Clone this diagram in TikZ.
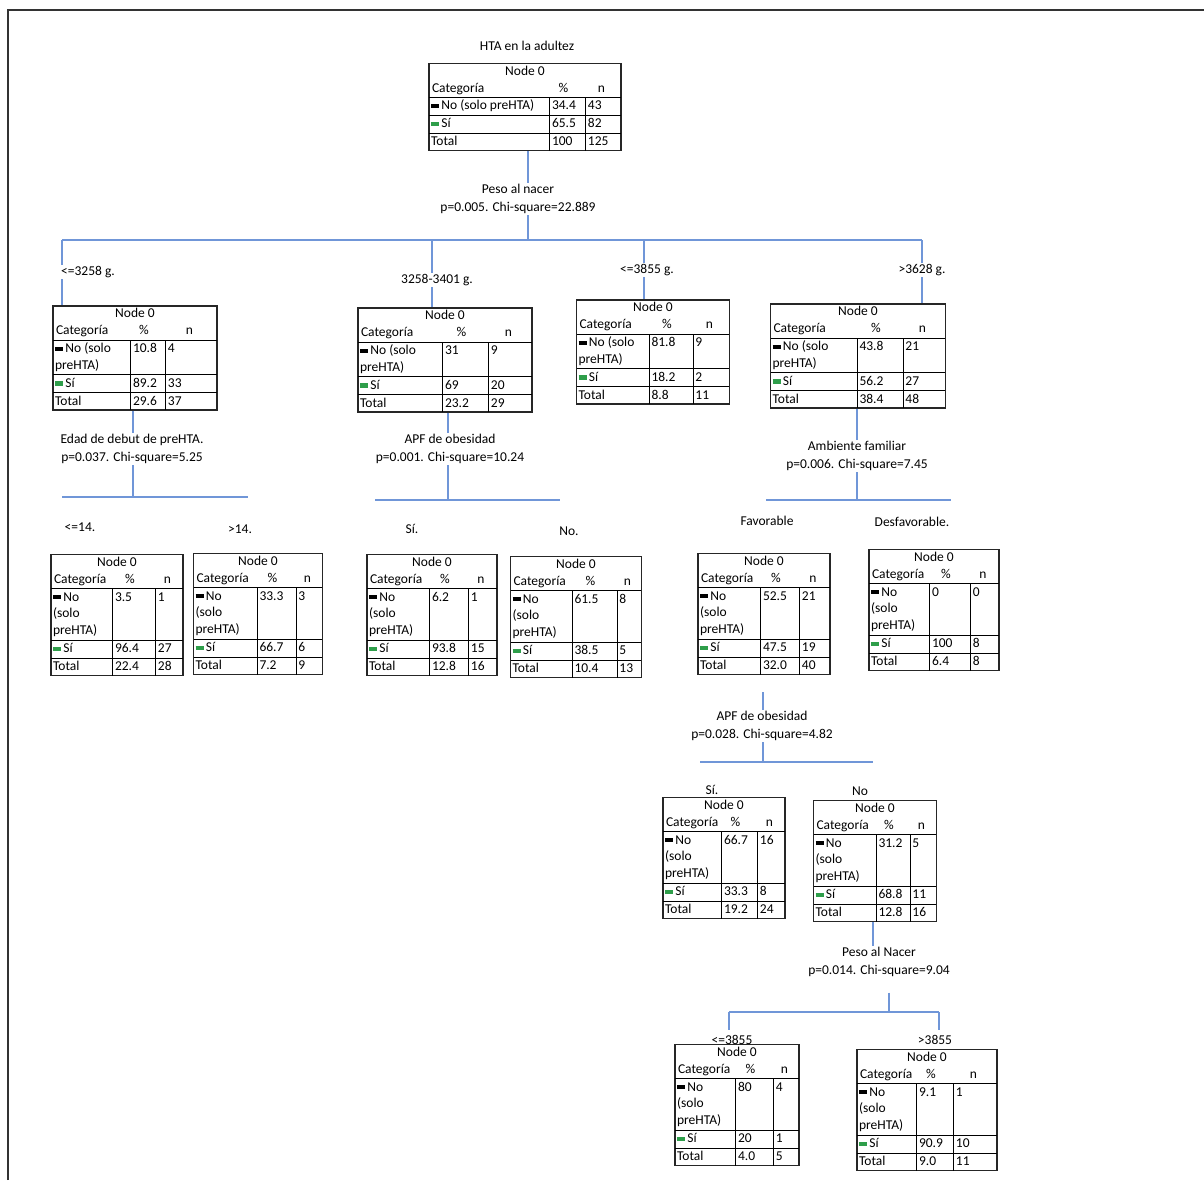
\documentclass[tikz,border=0pt]{standalone}
\usepackage{fontspec}
\setmainfont{Carlito}
\usepackage{array}
\usepackage{tikz}
\definecolor{treeblue}{HTML}{7096D8}
\definecolor{sigreen}{HTML}{2E9E4A}
\definecolor{framegray}{HTML}{333333}
\setlength\arrayrulewidth{0.7pt}
\newlength\pxu \setlength\pxu{0.025cm}
\newlength\cwA \newlength\cwB \newlength\cwC
\newcommand\setcols[3]{\setlength\cwA{#1\pxu}\setlength\cwB{#2\pxu}\setlength\cwC{#3\pxu}}
\newcommand\nomark{\textcolor{black}{\rule[0.12em]{0.6em}{0.32em}}\,}
\newcommand\simark{\textcolor{sigreen}{\rule[0.12em]{0.6em}{0.32em}}\,}
% one SPSS-like cell table: No-label, %, n, %, n, total %, total n
\newcommand\ctab[7]{%
  \setlength\tabcolsep{2\pxu}%
  \begin{tabular}{>{\raggedright\arraybackslash}p{\dimexpr\cwA-2\tabcolsep\relax}|%
      >{\raggedright\arraybackslash}p{\dimexpr\cwB-2\tabcolsep\relax}|%
      >{\raggedright\arraybackslash}p{\dimexpr\cwC-2\tabcolsep\relax}}
    \multicolumn{3}{c}{Node 0}\\
    \multicolumn{3}{@{}l@{}}{\makebox[\cwA][l]{\hspace{3\pxu}Categoría}\makebox[\cwB][c]{\%\hspace{6\pxu}}\makebox[\cwC][c]{n}}\\ \hline
    \nomark #1 & #2 & #3\\ \hline
    \simark Sí & #4 & #5\\ \hline
    Total & #6 & #7
  \end{tabular}}

\begin{document}
\begin{tikzpicture}[x=0.025cm, y=-0.025cm,
    font=\fontsize{9.6}{12}\selectfont,
    tabnode/.style={draw=black!85, line width=0.9pt, inner sep=0pt, fill=white},
    splitlbl/.style={align=center, font=\fontsize{9.6}{12.8}\selectfont, inner sep=1pt},
    branchlbl/.style={fill=white, inner sep=1pt},
    conn/.style={treeblue, line width=1pt}]
  \useasboundingbox (0,0) rectangle (1204,1180);
  \draw[framegray, line width=1pt] (8,1180) -- (8,10) -- (1204,10);

  % Root
  \node (TITLE) at (527,46) {HTA en la adultez};
  \node[tabnode] (ROOT) at (525,107)
    {\setcols{120}{35}{35}\ctab{No (solo preHTA)}{34.4}{43}{65.5}{82}{100}{125}};
  \node[splitlbl] (SPESO) at (518,199) {Peso al nacer\\p=0.005. Chi-square=22.889};

  % Peso al nacer
  \node[tabnode] (PESO1) at (135,358)
    {\setcols{77}{34}{51}\ctab{No (solo\newline preHTA)}{10.8}{4}{89.2}{33}{29.6}{37}};
  \node[tabnode] (PESO2) at (445,360)
    {\setcols{84}{45}{43}\ctab{No (solo\newline preHTA)}{31}{9}{69}{20}{23.2}{29}};
  \node[tabnode] (PESO3) at (653,352)
    {\setcols{72}{43}{36}\ctab{No (solo\newline preHTA)}{81.8}{9}{18.2}{2}{8.8}{11}};
  \node[tabnode] (PESO4) at (858,356)
    {\setcols{86}{45}{42}\ctab{No (solo\newline preHTA)}{43.8}{21}{56.2}{27}{38.4}{48}};
  \coordinate (B0) at (528,240);
  \coordinate (B01) at (62,240);
  \coordinate (B02) at (432,240);
  \coordinate (B03) at (644,240);
  \coordinate (B04) at (922,240);
  \draw[conn] (ROOT.south -| B0) -- (SPESO.north -| B0);
  \draw[conn] (SPESO.south -| B0) -- (B0);
  \draw[conn] (B01) -- (B04);
  \draw[conn] (B01) -- (B01 |- PESO1.north);
  \draw[conn] (B02) -- (B02 |- PESO2.north);
  \draw[conn] (B03) -- (B03 |- PESO3.north);
  \draw[conn] (B04) -- (B04 |- PESO4.north);
  \node[branchlbl] (L01) at (88,272) {<=3258 g.};
  \node[branchlbl] (L02) at (437,280) {3258-3401 g.};
  \node[branchlbl] (L03) at (647,270) {<=3855 g.};
  \node[branchlbl] (L04) at (922,270) {>3628 g.};

  % Edad de debut
  \node[splitlbl] (SEDAD) at (132,449) {Edad de debut de preHTA.\\p=0.037. Chi-square=5.25};
  \coordinate (B1) at (133,497);
  \draw[conn] (PESO1.south -| B1) -- (SEDAD.north -| B1);
  \draw[conn] (SEDAD.south -| B1) -- (B1);
  \draw[conn] (62,497) -- (248,497);
  \node (L11) at (80,527) {<=14.};
  \node (L12) at (240,529) {>14.};
  \node[tabnode] (EDAD1) at (117,615)
    {\setcols{61}{42}{27}\ctab{No\newline (solo\newline preHTA)}{3.5}{1}{96.4}{27}{22.4}{28}};
  \node[tabnode] (EDAD2) at (258,614)
    {\setcols{63}{38}{26}\ctab{No\newline (solo\newline preHTA)}{33.3}{3}{66.7}{6}{7.2}{9}};

  % APF de obesidad
  \node[splitlbl] (SAPF) at (450,449) {APF de obesidad\\p=0.001. Chi-square=10.24};
  \coordinate (B2) at (448,500);
  \draw[conn] (PESO2.south -| B2) -- (SAPF.north -| B2);
  \draw[conn] (SAPF.south -| B2) -- (B2);
  \draw[conn] (375,500) -- (560,500);
  \node (L21) at (412,529) {Sí.};
  \node (L22) at (569,531) {No.};
  \node[tabnode] (APF1) at (432,615)
    {\setcols{62}{38}{28}\ctab{No\newline (solo\newline preHTA)}{6.2}{1}{93.8}{15}{12.8}{16}};
  \node[tabnode] (APF2) at (576,617)
    {\setcols{61}{44}{24}\ctab{No\newline (solo\newline preHTA)}{61.5}{8}{38.5}{5}{10.4}{13}};

  % Ambiente familiar
  \node[splitlbl] (SAMB) at (857,456) {Ambiente familiar\\p=0.006. Chi-square=7.45};
  \coordinate (B3) at (857,500);
  \draw[conn] (PESO4.south -| B3) -- (SAMB.north -| B3);
  \draw[conn] (SAMB.south -| B3) -- (B3);
  \draw[conn] (766,500) -- (951,500);
  \node (L31) at (767,521) {Favorable};
  \node (L32) at (912,522) {Desfavorable.};
  \node[tabnode] (AMB1) at (764,614)
    {\setcols{62}{38}{30}\ctab{No\newline (solo\newline preHTA)}{52.5}{21}{47.5}{19}{32.0}{40}};
  \node[tabnode] (AMB2) at (934,610)
    {\setcols{60}{40}{28}\ctab{No\newline (solo\newline preHTA)}{0}{0}{100}{8}{6.4}{8}};

  % APF de obesidad (favorable)
  \node[splitlbl] (SOBE) at (762,726) {APF de obesidad\\p=0.028. Chi-square=4.82};
  \coordinate (B4) at (763,762);
  \draw[conn, shorten <=12pt] (AMB1.south -| B4) -- (SOBE.north -| B4);
  \draw[conn] (SOBE.south -| B4) -- (B4);
  \draw[conn] (700,762) -- (873,762);
  \node (L41) at (712,790) {Sí.};
  \node (L42) at (860,791) {No};
  \node[tabnode] (OBE1) at (724,858)
    {\setcols{58}{35}{27}\ctab{No\newline (solo\newline preHTA)}{66.7}{16}{33.3}{8}{19.2}{24}};
  \node[tabnode] (OBE2) at (875,861)
    {\setcols{62}{33}{26}\ctab{No\newline (solo\newline preHTA)}{31.2}{5}{68.8}{11}{12.8}{16}};

  % Peso al Nacer (no)
  \node[splitlbl] (SNAC) at (879,962) {Peso al Nacer\\p=0.014. Chi-square=9.04};
  \coordinate (B5) at (889,1012);
  \coordinate (B51) at (729,1012);
  \coordinate (B52) at (939,1012);
  \draw[conn] (OBE2.south -| 873,0) -- (SNAC.north -| 873,0);
  \draw[conn, shorten <=10pt] (SNAC.south -| B5) -- (B5);
  \draw[conn] (B51) -- (B52);
  \node (L51) at (732,1040) {<=3855};
  \node (L52) at (935,1040) {>3855};
  \draw[conn] (B51) -- (B51 |- L51.north);
  \draw[conn] (B52) -- (B52 |- L52.north);
  \node[tabnode] (NAC1) at (737,1105)
    {\setcols{60}{37}{25}\ctab{No\newline (solo\newline preHTA)}{80}{4}{20}{1}{4.0}{5}};
  \node[tabnode] (NAC2) at (927,1110)
    {\setcols{59}{36}{43}\ctab{No\newline (solo\newline preHTA)}{9.1}{1}{90.9}{10}{9.0}{11}};
\end{tikzpicture}
\end{document}
